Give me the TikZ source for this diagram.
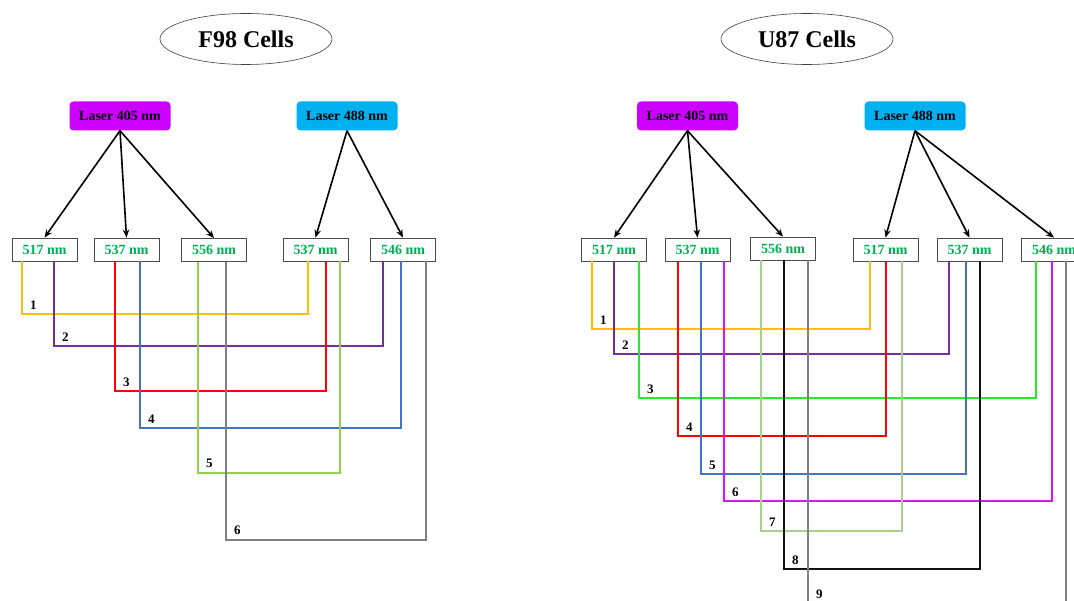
\documentclass[tikz,border=0pt]{standalone}
\usepackage{fontspec}
\setmainfont{Liberation Serif}
\usetikzlibrary{arrows.meta,shapes.geometric}
\definecolor{cyel}{HTML}{FFC000}
\definecolor{cpur}{HTML}{7030A0}
\definecolor{cred}{HTML}{FF0000}
\definecolor{cblu}{HTML}{4472C4}
\definecolor{clgr}{HTML}{92D050}
\definecolor{clgrb}{HTML}{A9D18E}
\definecolor{cgry}{HTML}{808080}
\definecolor{cgrn}{HTML}{22EE22}
\definecolor{cmag}{HTML}{DD11FF}
\definecolor{cblk}{HTML}{111111}
\definecolor{lasera}{HTML}{CC00FF}
\definecolor{laserb}{HTML}{00B0F0}
\definecolor{txtgrn}{HTML}{00B050}
\begin{document}
\begin{tikzpicture}[x=1pt,y=-1pt,
  title/.style={ellipse, draw=black!75, line width=0.6pt, minimum width=172pt, minimum height=51pt, inner sep=0pt, font=\fontsize{24}{28}\selectfont\bfseries},
  laser/.style={rounded corners=4pt, minimum width=101pt, minimum height=29pt, inner sep=0pt, font=\fontsize{14}{16}\selectfont\bfseries},
  wl/.style={draw=black!70, line width=0.8pt, minimum width=65pt, minimum height=23pt, inner sep=0pt, text=txtgrn, font=\fontsize{14}{16}\selectfont\bfseries},
  beam/.style={-{Stealth[length=8pt,width=6.5pt]}, line width=1.6pt, black},
  conn/.style={line width=2pt},
  num/.style={font=\fontsize{13}{15}\selectfont\bfseries, text=black, inner sep=0pt, anchor=base west, xshift=7pt, yshift=5pt}
]
\useasboundingbox (0,0) rectangle (1074,601);
\clip (0,0) rectangle (1074,601);

% ---------------- F98 ----------------
\node[title] (tF) at (246,39) {F98 Cells};
\node[laser, fill=lasera] (LA) at (120,116) {Laser 405 nm};
\node[laser, fill=laserb] (LB) at (347,116) {Laser 488 nm};
\node[wl] (a1) at (44.5,249.5) {517 nm};
\node[wl] (a2) at (126.5,249.5) {537 nm};
\node[wl] (a3) at (214,250) {556 nm};
\node[wl] (a4) at (315.5,249.5) {537 nm};
\node[wl] (a5) at (403,249.5) {546 nm};
\draw[beam] (LA.south) -- (a1.north);
\draw[beam] (LA.south) -- (a2.north);
\draw[beam] (LA.south) -- (a3.north);
\draw[beam] (LB.south) -- (a4.north);
\draw[beam] (LB.south) -- (a5.north);

\draw[conn,cyel] ([xshift=-22.5pt]a1.south) -- ++(0,53) node[num] (nA1) {1} -| ([xshift=-7.5pt]a4.south);
\draw[conn,cpur] ([xshift=9.5pt]a1.south) -- ++(0,85) node[num] (nA2) {2} -| ([xshift=-20pt]a5.south);
\draw[conn,cred] ([xshift=-11.5pt]a2.south) -- ++(0,130) node[num] (nA3) {3} -| ([xshift=10.5pt]a4.south);
\draw[conn,cblu] ([xshift=13.5pt]a2.south) -- ++(0,167) node[num] (nA4) {4} -| ([xshift=-2pt]a5.south);
\draw[conn,clgr] ([xshift=-16pt]a3.south) -- ++(0,211) node[num] (nA5) {5} -| ([xshift=24.5pt]a4.south);
\draw[conn,cgry] ([xshift=12pt]a3.south) -- ++(0,278) node[num] (nA6) {6} -| ([xshift=23pt]a5.south);

% ---------------- U87 ----------------
\node[title] (tU) at (807,39) {U87 Cells};
\node[laser, fill=lasera] (LC) at (687.5,116) {Laser 405 nm};
\node[laser, fill=laserb] (LD) at (915,116) {Laser 488 nm};
\node[wl] (b1) at (614,249.5) {517 nm};
\node[wl] (b2) at (697.5,249.5) {537 nm};
\node[wl] (b3) at (783,248.5) {556 nm};
\node[wl] (b4) at (885.5,249.5) {517 nm};
\node[wl] (b5) at (969.5,249.5) {537 nm};
\node[wl] (b6) at (1054,249.5) {546 nm};
\draw[beam] (LC.south) -- (b1.north);
\draw[beam] (LC.south) -- (b2.north);
\draw[beam] (LC.south) -- (b3.north);
\draw[beam] (LD.south) -- (b4.north);
\draw[beam] (LD.south) -- (b5.north);
\draw[beam] (LD.south) -- (b6.north);

\draw[conn,cyel] ([xshift=-22pt]b1.south) -- ++(0,68) node[num] (nB1) {1} -| ([xshift=-15.5pt]b4.south);
\draw[conn,cpur] ([xshift=0pt]b1.south) -- ++(0,93) node[num] (nB2) {2} -| ([xshift=-20.5pt]b5.south);
\draw[conn,cgrn] ([xshift=25pt]b1.south) -- ++(0,137) node[num] (nB3) {3} -| ([xshift=-18pt]b6.south);
\draw[conn,cred] ([xshift=-19.5pt]b2.south) -- ++(0,175) node[num] (nB4) {4} -| ([xshift=0.5pt]b4.south);
\draw[conn,cblu] ([xshift=3.5pt]b2.south) -- ++(0,213) node[num] (nB5) {5} -| ([xshift=-3.5pt]b5.south);
\draw[conn,cmag] ([xshift=26.5pt]b2.south) -- ++(0,240) node[num] (nB6) {6} -| ([xshift=-2pt]b6.south);
\draw[conn,clgrb] ([xshift=-22pt]b3.south) -- ++(0,271) node[num] (nB7) {7} -| ([xshift=16.5pt]b4.south);
\draw[conn,cblk] ([xshift=1pt]b3.south) -- ++(0,309) node[num] (nB8) {8} -| ([xshift=10.5pt]b5.south);
\draw[conn,cgry] ([xshift=25pt]b3.south) -- ++(0,343) node[num] (nB9) {9} -| ([xshift=12pt]b6.south);
\end{tikzpicture}
\end{document}
